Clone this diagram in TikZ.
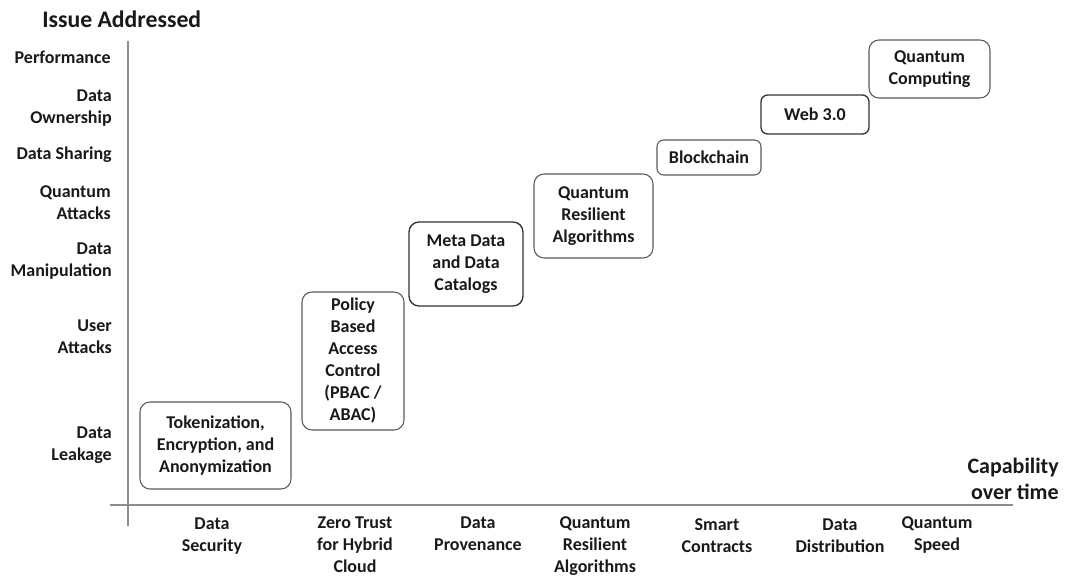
\documentclass[tikz,border=0pt]{standalone}
\usepackage{fontspec}
\setmainfont{Carlito}
\begin{document}
\begin{tikzpicture}[x=0.75pt,y=-0.75pt,
  lbl/.style={font=\bfseries\fontsize{13.5}{16.5}\selectfont, inner sep=0pt, text=black!90},
  ylbl/.style={lbl, anchor=east, align=right},
  xlbl/.style={lbl, align=center},
  big/.style={font=\bfseries\fontsize{16.5}{19.5}\selectfont, inner sep=0pt, text=black!90},
  axis/.style={draw=black!45, line width=0.8pt},
  card/.style={lbl, draw=black!65, line width=0.8pt, rounded corners=7.5pt, align=center},
  darkcard/.style={card, draw=black!80, line width=1pt}]
\useasboundingbox (0,0) rectangle (1072,579);

% axes
\coordinate (ytop) at (128,41);
\coordinate (ybot) at (128,526);
\coordinate (xleft) at (110,505);
\coordinate (xright) at (1013,505);
\draw[axis] (ytop) -- (ybot);
\draw[axis] (xleft) -- (xright);

% axis titles
\node[big, font=\bfseries\fontsize{17.8}{20}\selectfont, anchor=west] (ytitle) at (42,19) {Issue Addressed};
\node[big, anchor=east, align=right] (xtitle) at (1059,479) {Capability\\over time};

% issues (vertical axis)
\node[ylbl] (perf)  at (111,57)  {Performance};
\node[ylbl] (own)   at (112,108) {Data\\Ownership};
\node[ylbl] (share) at (112,155) {Data Sharing};
\node[ylbl] (qatt)  at (111,203) {Quantum\\Attacks};
\node[ylbl] (manip) at (112,261) {Data\\Manipulation};
\node[ylbl] (uatt)  at (112,337) {User\\Attacks};
\node[ylbl] (leak)  at (112,445) {Data\\Leakage};

% capabilities (horizontal axis)
\node[xlbl] (c1) at (212,536) {Data\\Security};
\node[xlbl] (c2) at (355,545) {Zero Trust\\for Hybrid\\Cloud};
\node[xlbl] (c3) at (478,534) {Data\\Provenance};
\node[xlbl] (c4) at (595,546) {Quantum\\Resilient\\Algorithms};
\node[xlbl] (c5) at (717,536) {Smart\\Contracts};
\node[xlbl] (c6) at (840,536) {Data\\Distribution};
\node[xlbl] (c7) at (937,535) {Quantum\\Speed};

% technologies
\node[card, minimum width=113.25pt, minimum height=65.25pt] (tok) at (215.5,445.5)
  {Tokenization,\\Encryption, and\\Anonymization};
\node[card, minimum width=76.5pt, minimum height=103.5pt] (pbac) at (353,361)
  {Policy\\Based\\Access\\Control\\(PBAC /\\ABAC)};
\node[darkcard, minimum width=85.5pt, minimum height=63pt] (meta) at (466,264)
  {Meta Data\\and Data\\Catalogs};
\node[card, minimum width=89.25pt, minimum height=63pt] (qra) at (593.5,216)
  {Quantum\\Resilient\\Algorithms};
\node[card, rounded corners=5pt, minimum width=78pt, minimum height=26.25pt] (chain) at (709,157.5)
  {Blockchain};
\node[darkcard, rounded corners=5pt, minimum width=81pt, minimum height=29.25pt] (web) at (815,114.5)
  {Web 3.0};
\node[card, minimum width=90.75pt, minimum height=43.5pt] (qc) at (929.5,69)
  {Quantum\\Computing};
\end{tikzpicture}
\end{document}
